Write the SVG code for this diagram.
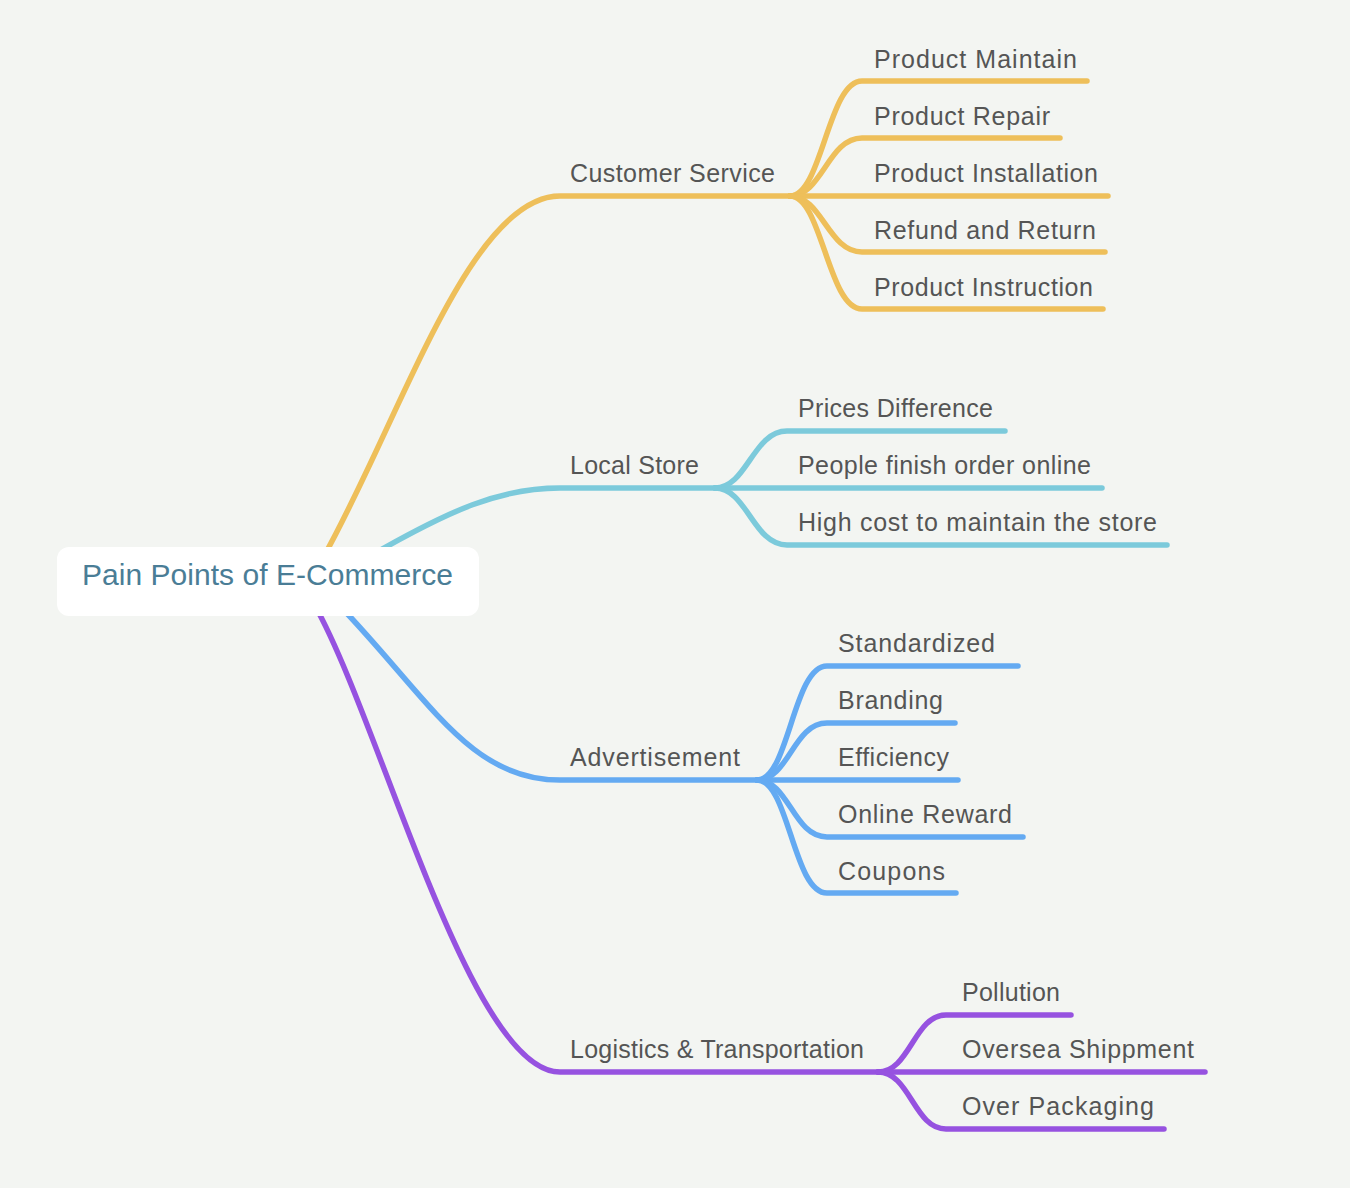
<svg xmlns="http://www.w3.org/2000/svg" width="1350" height="1188" viewBox="0 0 1350 1188">
<style>
.bg{fill:#f3f5f2}
.l{fill:none;stroke-width:5.5;stroke-linecap:round;stroke-linejoin:round}
.y{stroke:#eebf5a}.t{stroke:#7ccadb}.b{stroke:#64aaf2}.p{stroke:#9652e0}
.tx{font-family:"Liberation Sans",Arial,sans-serif;font-size:25px;fill:#555555}
.root{font-family:"Liberation Sans",Arial,sans-serif;font-size:30px;fill:#4a7d96}
</style>
<rect class="bg" x="0" y="0" width="1350" height="1188"/>
<g id="connectors">
<path class="l y" d="M324,556 C400,420 470,196 560,196 L790,196"/>
<path class="l y" d="M790,196 C822,196 828,81 862,81 L1087,81"/>
<path class="l y" d="M790,196 C822,196 828,138 862,138 L1060,138"/>
<path class="l y" d="M790,196 L1108,196"/>
<path class="l y" d="M790,196 C822,196 828,252 862,252 L1105,252"/>
<path class="l y" d="M790,196 C822,196 828,309 862,309 L1103,309"/>
<path class="l t" d="M370,556 C450,510 500,488 560,488 L715,488"/>
<path class="l t" d="M715,488 C747,488 753,431 787,431 L1005,431"/>
<path class="l t" d="M715,488 L1102,488"/>
<path class="l t" d="M715,488 C747,488 753,545 787,545 L1167,545"/>
<path class="l b" d="M340,606 C430,700 470,780 560,780 L757,780"/>
<path class="l b" d="M757,780 C789,780 793,666 827,666 L1018,666"/>
<path class="l b" d="M757,780 C789,780 793,723 827,723 L955,723"/>
<path class="l b" d="M757,780 L958,780"/>
<path class="l b" d="M757,780 C789,780 793,837 827,837 L1023,837"/>
<path class="l b" d="M757,780 C789,780 793,893 827,893 L956,893"/>
<path class="l p" d="M314,604 C380,720 470,1072 560,1072 L878,1072"/>
<path class="l p" d="M878,1072 C910,1072 914,1015 946,1015 L1071,1015"/>
<path class="l p" d="M878,1072 L1205,1072"/>
<path class="l p" d="M878,1072 C910,1072 914,1129 946,1129 L1164,1129"/>
</g>
<g id="root">
<rect x="57" y="547" width="422" height="69" rx="12" fill="#ffffff"/>
<text class="root" x="82" y="585" textLength="371">Pain Points of E-Commerce</text>
</g>
<g id="customer-service">
<text class="tx" x="570" y="182" textLength="205">Customer Service</text>
</g>
<g id="product-maintain"><text class="tx" x="874" y="68" textLength="203">Product Maintain</text></g>
<g id="product-repair"><text class="tx" x="874" y="125" textLength="176">Product Repair</text></g>
<g id="product-installation"><text class="tx" x="874" y="182" textLength="224">Product Installation</text></g>
<g id="refund-return"><text class="tx" x="874" y="239" textLength="222">Refund and Return</text></g>
<g id="product-instruction"><text class="tx" x="874" y="296" textLength="219">Product Instruction</text></g>
<g id="local-store"><text class="tx" x="570" y="474" textLength="129">Local Store</text></g>
<g id="prices-difference"><text class="tx" x="798" y="417" textLength="195">Prices Difference</text></g>
<g id="people-finish"><text class="tx" x="798" y="474" textLength="293">People finish order online</text></g>
<g id="high-cost"><text class="tx" x="798" y="531" textLength="359">High cost to maintain the store</text></g>
<g id="advertisement"><text class="tx" x="570" y="766" textLength="170">Advertisement</text></g>
<g id="standardized"><text class="tx" x="838" y="652" textLength="157">Standardized</text></g>
<g id="branding"><text class="tx" x="838" y="709" textLength="105">Branding</text></g>
<g id="efficiency"><text class="tx" x="838" y="766" textLength="111">Efficiency</text></g>
<g id="online-reward"><text class="tx" x="838" y="823" textLength="174">Online Reward</text></g>
<g id="coupons"><text class="tx" x="838" y="880" textLength="107">Coupons</text></g>
<g id="logistics"><text class="tx" x="570" y="1058" textLength="294">Logistics &amp; Transportation</text></g>
<g id="pollution"><text class="tx" x="962" y="1001" textLength="98">Pollution</text></g>
<g id="oversea"><text class="tx" x="962" y="1058" textLength="232">Oversea Shippment</text></g>
<g id="over-packaging"><text class="tx" x="962" y="1115" textLength="192">Over Packaging</text></g>
</svg>
